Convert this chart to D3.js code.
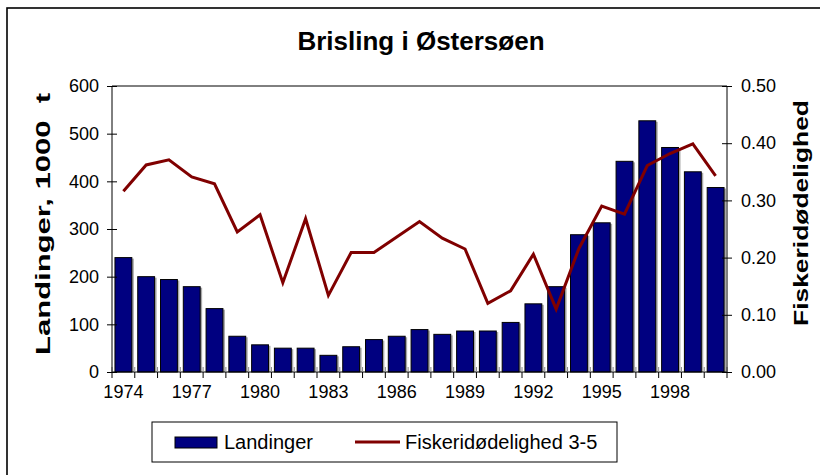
<!DOCTYPE html>
<html>
<head>
<meta charset="utf-8">
<script src="https://cdn.jsdelivr.net/npm/d3@7"></script>
<style>
  html, body { margin: 0; padding: 0; background: #fff; }
  svg { display: block; }
  text { font-family: Arial, "Liberation Sans", sans-serif; }
</style>
</head>
<body>
<svg id="chart" width="820" height="475"></svg>
<script>
const categories = ["1974","1975","1976","1977","1978","1979","1980","1981","1982","1983","1984","1985","1986","1987","1988","1989","1990","1991","1992","1993","1994","1995","1996","1997","1998","1999","2000"];
const landinger = [240, 200, 194, 179, 133, 75, 57, 50, 50, 35, 53, 68, 75, 89, 79, 86, 86, 104, 143, 179, 288, 313, 442, 527, 471, 420, 387];
const fiskeridodelighed = [0.316, 0.362, 0.371, 0.341, 0.329, 0.245, 0.275, 0.156, 0.268, 0.134, 0.209, 0.209, 0.236, 0.263, 0.234, 0.215, 0.120, 0.142, 0.206, 0.110, 0.216, 0.290, 0.276, 0.361, 0.382, 0.399, 0.343];
const xTickLabels = ["1974","1977","1980","1983","1986","1989","1992","1995","1998"];
const leftTicks = [0, 100, 200, 300, 400, 500, 600];
const rightTicks = [0, 0.1, 0.2, 0.3, 0.4, 0.5];
const title = "Brisling i Østersøen";
const leftTitle = "Landinger, 1000  t";
const rightTitle = "Fiskeridødelighed";
const legendLabels = ["Landinger", "Fiskeridødelighed 3-5"];

const svg = d3.select("#chart");
const L = 112, R = 727, T = 86, B = 372;

// outer chart border
svg.append("rect").attr("x", 7).attr("y", 8).attr("width", 840).attr("height", 520)
  .attr("fill", "none").attr("stroke", "#000").attr("stroke-width", 1.6);

const x = d3.scaleBand().domain(categories).range([L, R]).paddingInner(0.26).paddingOuter(0.13);
const xb = d3.scaleBand().domain(categories).range([L, R]);
const yL = d3.scaleLinear().domain([0, 600]).range([B, T]);
const yR = d3.scaleLinear().domain([0, 0.5]).range([B, T]);

// title
svg.append("text").attr("x", 421).attr("y", 50).attr("text-anchor", "middle")
  .attr("font-size", 26).attr("font-weight", "bold").text(title);

// plot frame top
svg.append("line").attr("x1", L).attr("x2", R).attr("y1", T).attr("y2", T).attr("stroke", "#000");

// bars with shadow
const bars = svg.append("g");
bars.selectAll("rect.shadow").data(landinger).join("rect").attr("class", "shadow")
  .attr("x", (d, i) => x(categories[i]) + 2).attr("y", d => yL(d) + 1)
  .attr("width", x.bandwidth()).attr("height", d => B - yL(d) - 1)
  .attr("fill", "#a8a8a8");
bars.selectAll("rect.bar").data(landinger).join("rect").attr("class", "bar")
  .attr("x", (d, i) => x(categories[i])).attr("y", d => yL(d))
  .attr("width", x.bandwidth()).attr("height", d => B - yL(d))
  .attr("fill", "#000080").attr("stroke", "#000").attr("stroke-width", 1);

// x axis
const xAxis = d3.axisBottom(xb).tickValues(xTickLabels).tickSize(0).tickPadding(20);
const gx = svg.append("g").attr("transform", `translate(0,${B})`).call(xAxis);
gx.select(".domain").attr("stroke", "#000").attr("d", `M${L},0H${R}`);
gx.selectAll("text").attr("font-size", 18).attr("font-family", "Arial, 'Liberation Sans', sans-serif").attr("fill", "#000").attr("dy", "0.36em");
// category boundary ticks (cross)
const bounds = categories.map(c => xb(c)).concat([R]);
svg.append("g").selectAll("line").data(bounds).join("line")
  .attr("x1", d => d).attr("x2", d => d).attr("y1", B - 5).attr("y2", B)
  .attr("stroke", "#888");
svg.append("g").selectAll("line").data(bounds).join("line")
  .attr("x1", d => d).attr("x2", d => d).attr("y1", B).attr("y2", B + 6)
  .attr("stroke", "#000");

// left axis
const gl = svg.append("g").attr("transform", `translate(${L},0)`)
  .call(d3.axisLeft(yL).tickValues(leftTicks).tickSize(5).tickPadding(8).tickFormat(d3.format("d")));
gl.selectAll(".tick line").attr("x2", -5).attr("x1", 5).attr("stroke", "#000");
gl.select(".domain").attr("d", `M0,${T}V${B}`).attr("stroke", "#000");
gl.selectAll("text").attr("font-size", 18).attr("font-family", "Arial, 'Liberation Sans', sans-serif").attr("fill", "#000");

// right axis
const gr = svg.append("g").attr("transform", `translate(${R},0)`)
  .call(d3.axisRight(yR).tickValues(rightTicks).tickSize(5).tickPadding(9).tickFormat(d3.format(".2f")));
gr.selectAll(".tick line").attr("x1", -5).attr("x2", 5).attr("stroke", "#000");
gr.select(".domain").attr("d", `M0,${T}V${B}`).attr("stroke", "#000");
gr.selectAll("text").attr("font-size", 18).attr("font-family", "Arial, 'Liberation Sans', sans-serif").attr("fill", "#000");

// line
const line = d3.line().x((d, i) => xb(categories[i]) + xb.bandwidth() / 2).y(d => yR(d));
svg.append("path").datum(fiskeridodelighed).attr("d", line)
  .attr("fill", "none").attr("stroke", "#800000").attr("stroke-width", 3).attr("stroke-linejoin", "miter");

// axis titles
svg.append("text").attr("transform", "translate(50,224) rotate(-90)")
  .attr("text-anchor", "middle").attr("font-size", 20).attr("font-weight", "bold")
  .attr("textLength", 262).attr("lengthAdjust", "spacingAndGlyphs")
  .style("white-space", "pre").text(leftTitle);
svg.append("text").attr("transform", "translate(808,213) rotate(-90)")
  .attr("text-anchor", "middle").attr("font-size", 20).attr("font-weight", "bold")
  .attr("textLength", 226).attr("lengthAdjust", "spacingAndGlyphs")
  .text(rightTitle);

// legend
const lg = svg.append("g");
lg.append("rect").attr("x", 152).attr("y", 422).attr("width", 465).attr("height", 40)
  .attr("fill", "#fff").attr("stroke", "#000").attr("stroke-width", 1);
lg.append("rect").attr("x", 175).attr("y", 437).attr("width", 42).attr("height", 11)
  .attr("fill", "#000080").attr("stroke", "#000").attr("stroke-width", 1);
lg.append("text").attr("x", 224).attr("y", 449).attr("font-size", 20).text(legendLabels[0]);
lg.append("line").attr("x1", 355).attr("x2", 400).attr("y1", 442).attr("y2", 442)
  .attr("stroke", "#800000").attr("stroke-width", 3);
lg.append("text").attr("x", 405).attr("y", 449).attr("font-size", 20).text(legendLabels[1]);
</script>
</body>
</html>
